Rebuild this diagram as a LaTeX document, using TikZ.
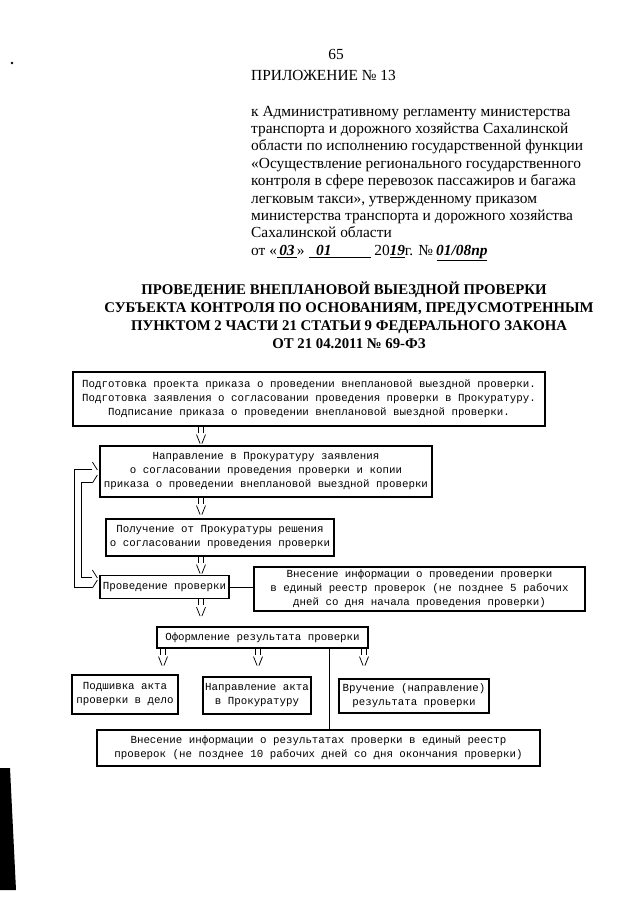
\documentclass[tikz,border=0pt]{standalone}
\usepackage{fontspec}
\setmainfont{Liberation Serif}
\newfontfamily\mono{Liberation Mono}
\usetikzlibrary{calc}
\newcommand\hw{\bfseries\itshape}
\tikzset{
  box/.style={draw, line width=1.2pt, font=\mono\fontsize{10.8}{14}\selectfont, align=center, inner sep=0pt},
  conn/.style={line width=1pt},
  tipline/.style={line width=0.75pt},
  hdr/.style={font=\fontsize{15.4}{17.4}\selectfont, inner sep=0pt},
  ttl/.style={font=\fontsize{14.8}{18}\selectfont\bfseries, inner sep=0pt, anchor=base},
}
% ASCII-like down arrow "||" over "\/" hanging from a named coordinate
\newcommand\asciidown[1]{%
  \draw[tipline] ($(#1)+(-2.2,0)$) -- ++(0,6) ($(#1)+(2.2,0)$) -- ++(0,6);
  \draw[tipline] ($(#1)+(-4.5,8)$) -- ($(#1)+(-0.9,17)$) ($(#1)+(4.5,8)$) -- ($(#1)+(0.9,17)$);}
\begin{document}
\begin{tikzpicture}[x=1pt,y=-1pt]
\useasboundingbox (0,0) rectangle (640,905);
\fill[white] (0,0) rectangle (640,905);
% scan marks
\fill[black] (12,63) circle (1.3);
\fill[black] (0,768) -- (10,768) -- (16,890) -- (0,890) -- cycle;

% header
\node[hdr] (pg) at (336,54) {65};
\node[hdr, anchor=base west] (app) at (251,80) {ПРИЛОЖЕНИЕ № 13};
\node[hdr, anchor=base west] (r1) at (251,116) {к Административному регламенту министерства};
\node[hdr, anchor=base west] (r2) at (251,133.4) {транспорта и дорожного хозяйства Сахалинской};
\node[hdr, anchor=base west] (r3) at (251,150.8) {области по исполнению государственной функции};
\node[hdr, anchor=base west] (r4) at (251,168.2) {«Осуществление регионального государственного};
\node[hdr, anchor=base west] (r5) at (251,185.6) {контроля в сфере перевозок пассажиров и багажа};
\node[hdr, anchor=base west] (r6) at (251,203.0) {легковым такси», утвержденному приказом};
\node[hdr, anchor=base west] (r7) at (251,220.4) {министерства транспорта и дорожного хозяйства};
\node[hdr, anchor=base west] (r8) at (251,237.8) {Сахалинской области};
\node[hdr, anchor=base west] (r9) at (251,255.2) {от «\underline{\makebox[20pt]{\hw 03}}» \underline{\makebox[62pt][l]{\hw\ \ 01}} 20\underline{\makebox[15pt]{\hw 19}}г. № \underline{\makebox[50pt]{\hw 01/08пр}}};

% title
\node[ttl] (t1) at (344,294) {ПРОВЕДЕНИЕ ВНЕПЛАНОВОЙ ВЫЕЗДНОЙ ПРОВЕРКИ};
\node[ttl] (t2) at (349,312) {СУБЪЕКТА КОНТРОЛЯ ПО ОСНОВАНИЯМ, ПРЕДУСМОТРЕННЫМ};
\node[ttl] (t3) at (349,330) {ПУНКТОМ 2 ЧАСТИ 21 СТАТЬИ 9 ФЕДЕРАЛЬНОГО ЗАКОНА};
\node[ttl] (t4) at (349,348) {ОТ 21 04.2011 № 69-ФЗ};

% boxes
\node[box, minimum width=472, minimum height=54] (b1) at (309,399)
 {Подготовка проекта приказа о проведении внеплановой выездной проверки.\\
  Подготовка заявления о согласовании проведения проверки в Прокуратуру.\\
  Подписание приказа о проведении внеплановой выездной проверки.};
\node[box, minimum width=332, minimum height=51] (b2) at (266,471.5)
 {Направление в Прокуратуру заявления\\
  о согласовании проведения проверки и копии\\
  приказа о проведении внеплановой выездной проверки};
\node[box, minimum width=228, minimum height=37] (b3) at (220,537.5)
 {Получение от Прокуратуры решения\\о согласовании проведения проверки};
\node[box, minimum width=129, minimum height=23] (b4) at (164.5,587)
 {Проведение проверки};
\node[box, minimum width=331, minimum height=44] (b5) at (419.5,589)
 {Внесение информации о проведении проверки\\
  в единый реестр проверок (не позднее 5 рабочих\\
  дней со дня начала проведения проверки)};
\node[box, minimum width=211, minimum height=21] (b6) at (262.5,637.5)
 {Оформление результата проверки};
\node[box, minimum width=106, minimum height=39] (b7) at (125,694.5)
 {Подшивка акта\\проверки в дело};
\node[box, minimum width=108, minimum height=37] (b8) at (257,695.5)
 {Направление акта\\в Прокуратуру};
\node[box, minimum width=150, minimum height=34] (b9) at (414,696)
 {Вручение (направление)\\результата проверки};
\node[box, minimum width=443, minimum height=36] (b10) at (318.5,748)
 {Внесение информации о результатах проверки в единый реестр\\
  проверок (не позднее 10 рабочих дней со дня окончания проверки)};

% column coordinates
\coordinate (cx) at (201,0);
\coordinate (a1) at (b1.south -| cx);
\coordinate (a2) at (b2.south -| cx);
\coordinate (a3) at (b3.south -| cx);
\coordinate (a4) at (b4.south -| cx);
\coordinate (a6) at (b6.south -| 163,0);
\coordinate (a7) at (b6.south -| 258,0);
\coordinate (a8) at (b6.south -| 364,0);
\asciidown{a1}
\asciidown{a2}
\asciidown{a3}
\asciidown{a4}
\asciidown{a6}
\asciidown{a7}
\asciidown{a8}

% connectors
\draw[conn] (b4.east) -- (b4.east -| b5.west);
\coordinate (vx) at (329,0);
\draw[conn] (b6.south -| vx) -- (b10.north -| vx);

% return loop (double line with ">" heads)
\coordinate (o1) at ($(b2.west)+(-7,-2.5)$);
\coordinate (i1) at ($(b2.west)+(-7,10.5)$);
\coordinate (i2) at ($(b4.west)+(-7,-10)$);
\coordinate (o2) at ($(b4.west)+(-7,0)$);
\draw[conn] (o1) -- (o1 -| 74,0) -- (o2 -| 74,0) -- (o2);
\draw[conn] (i1) -- (i1 -| 81,0) -- (i2 -| 81,0) -- (i2);
\draw[tipline] ($(o1)+(0,-7)$) -- ($(o1)+(5,1)$);
\draw[tipline] ($(i1)+(0,1)$) -- ($(i1)+(5,-7)$);
\draw[tipline] ($(i2)+(0,-7)$) -- ($(i2)+(5,1)$);
\draw[tipline] ($(o2)+(0,1)$) -- ($(o2)+(5,-7)$);
\end{tikzpicture}
\end{document}
